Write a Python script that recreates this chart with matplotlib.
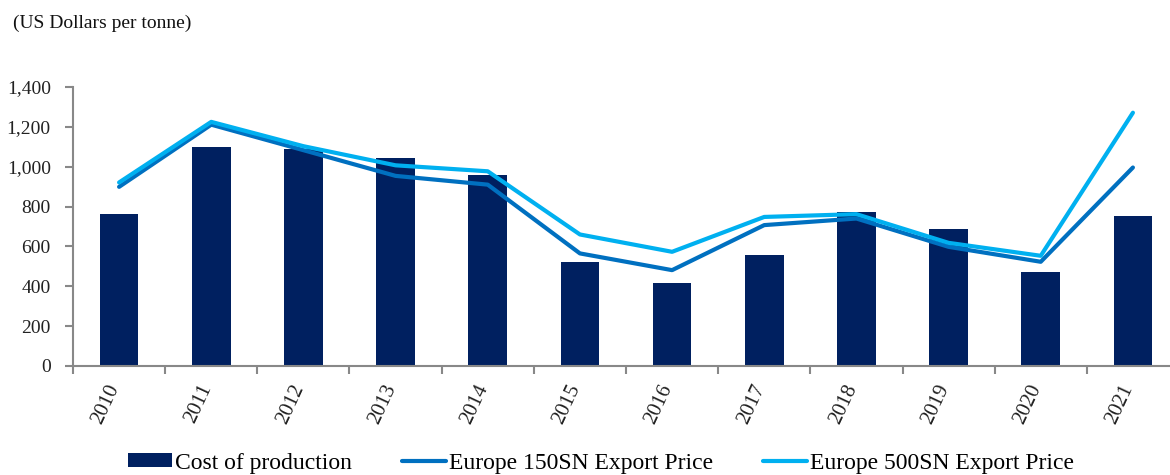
import matplotlib
matplotlib.use("Agg")
import matplotlib.pyplot as plt
import matplotlib.transforms as mtransforms
import numpy as np

years = ["2010", "2011", "2012", "2013", "2014", "2015", "2016", "2017", "2018", "2019", "2020", "2021"]
cost_of_production = [762, 1099, 1088, 1044, 957, 523, 414, 556, 773, 685, 470, 752]
europe_150sn = [899, 1211, 1083, 954, 910, 565, 481, 707, 740, 598, 523, 996]
europe_500sn = [921, 1225, 1103, 1007, 977, 660, 573, 748, 762, 618, 553, 1271]
yticks = [0, 200, 400, 600, 800, 1000, 1200, 1400]

plt.rcParams['font.family'] = ['Liberation Serif', 'DejaVu Serif']

W, H = 1170, 475
fig = plt.figure(figsize=(W / 100, H / 100), dpi=100)
left, right, bottom, top = 73, 1179, 366, 87
ax = fig.add_axes([left / W, 1 - bottom / H, (right - left) / W, (bottom - top) / H])

x = np.arange(len(years))
bars = ax.bar(x, cost_of_production, width=0.42, color="#002060", label="Cost of production", zorder=2)
l1, = ax.plot(x, europe_150sn, color="#0070C0", lw=3.0, label="Europe 150SN Export Price",
              solid_capstyle="round", zorder=3)
l2, = ax.plot(x, europe_500sn, color="#00B0F0", lw=3.0, label="Europe 500SN Export Price",
              solid_capstyle="round", zorder=4)

ax.set_xlim(-0.5, len(years) - 0.5)
ax.set_ylim(0, 1400)
ax.set_yticks(yticks)
ax.set_yticklabels([f"{v:,}" for v in yticks], fontsize=14, color="#222222")

ax.set_xticks(np.arange(-0.5, len(years), 1.0))
ax.set_xticklabels([])
ax.set_xticks(x, minor=True)
ax.set_xticklabels(years, minor=True, rotation=65, ha="right", va="center",
                   rotation_mode="anchor", fontsize=15, color="#222222")
ax.tick_params(axis="x", which="minor", length=0, pad=14)
ax.tick_params(axis="x", which="major", length=6, width=1.5, color="#888888", direction="out")
ax.tick_params(axis="y", length=6, width=1.5, color="#888888", direction="out", pad=10)

offset = mtransforms.ScaledTranslation(-4 / 100, 0, fig.dpi_scale_trans)
for lab in ax.get_xticklabels(minor=True):
    lab.set_transform(lab.get_transform() + offset)

for s in ["top", "right"]:
    ax.spines[s].set_visible(False)
for s in ["left", "bottom"]:
    ax.spines[s].set_color("#888888")
    ax.spines[s].set_linewidth(1.5)

fig.text(13 / W, 1 - 23 / H, "(US Dollars per tonne)", fontsize=14, va="center", ha="left",
         color="#111111")

leg = fig.legend([bars, l1, l2],
                 ["Cost of production", "Europe 150SN Export Price", "Europe 500SN Export Price"],
                 loc="center", bbox_to_anchor=(601 / W, 1 - 463 / H), ncol=3,
                 frameon=False, fontsize=17, handlelength=1.86, handleheight=0.5,
                 handletextpad=0.15, columnspacing=2.1, borderpad=0)

fig.savefig("out.png", dpi=100)
